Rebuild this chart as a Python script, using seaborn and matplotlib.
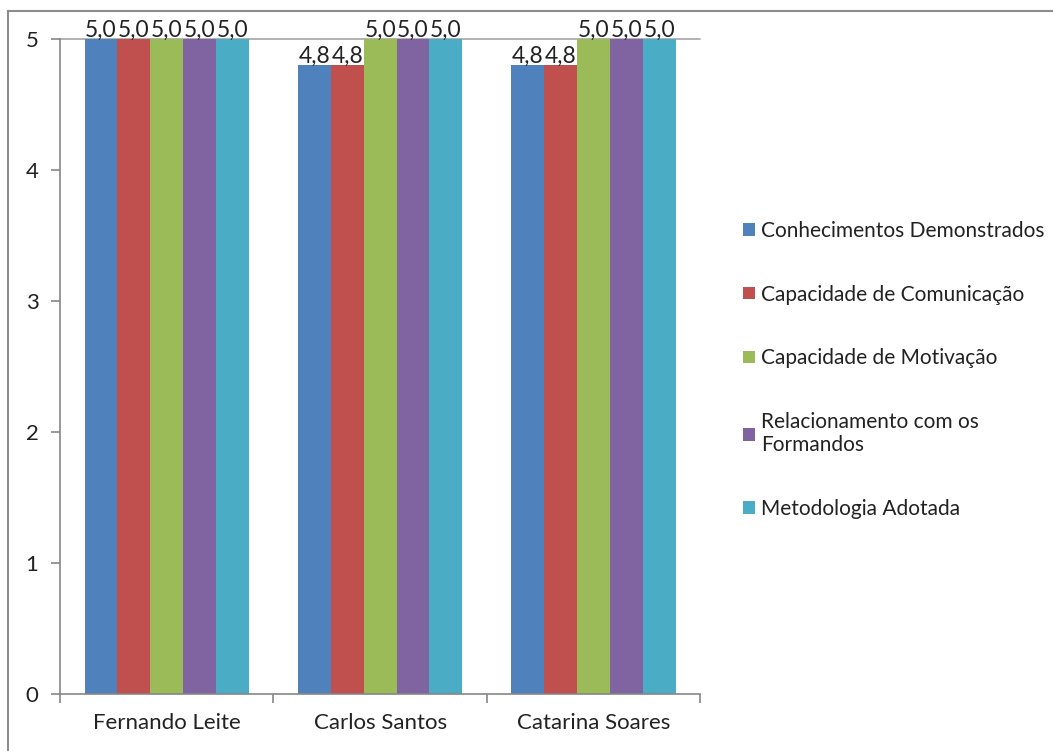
import numpy as np
import seaborn as sns
import pandas as pd
import matplotlib.pyplot as plt
from matplotlib.patches import Rectangle, Patch

# data
formadores = ['Fernando Leite', 'Carlos Santos', 'Catarina Soares']
criterios = ['Conhecimentos Demonstrados', 'Capacidade de Comunicação',
             'Capacidade de Motivação', 'Relacionamento com os\nFormandos',
             'Metodologia Adotada']
conhecimentos = [5.0, 4.8, 4.8]
comunicacao = [5.0, 4.8, 4.8]
motivacao = [5.0, 5.0, 5.0]
relacionamento = [5.0, 5.0, 5.0]
metodologia = [5.0, 5.0, 5.0]
cores = ['#4F81BD', '#C0504D', '#9BBB59', '#8064A2', '#4BACC6']

series = [conhecimentos, comunicacao, motivacao, relacionamento, metodologia]
rows = []
for crit, vals in zip(criterios, series):
    for nome, v in zip(formadores, vals):
        rows.append({'Formador': nome, 'Critério': crit, 'Nota': v})
df = pd.DataFrame(rows)

sns.set_style('white')
plt.rcParams['font.family'] = ['Lato', 'DejaVu Sans']

fig = plt.figure(figsize=(10.53, 7.51), dpi=100)
ax = fig.add_axes([0.057, 0.076, 0.608, 0.872])

sns.barplot(data=df, x='Formador', y='Nota', hue='Critério', order=formadores,
            hue_order=criterios, palette=cores, saturation=1, width=0.77,
            edgecolor='none', linewidth=0, ax=ax, legend=False)

for cont in ax.containers:
    labs = [f'{b.get_height():.1f}'.replace('.', ',') for b in cont]
    ax.bar_label(cont, labels=labs, padding=-1, fontsize=16.5, color='#222222', clip_on=False)

ax.set_ylim(0, 5)
ax.set_xlim(-0.5, 2.5)
ax.set_yticks(range(6))
ax.set_xlabel('')
ax.set_ylabel('')
ax.axhline(5, color='#A6A6A6', lw=1.2, zorder=0.5, clip_on=False)

for s in ['top', 'right']:
    ax.spines[s].set_visible(False)
for s in ['left', 'bottom']:
    ax.spines[s].set_color('#868686')
    ax.spines[s].set_linewidth(1.2)

ax.tick_params(axis='y', which='major', left=True, length=6.5, width=1.2, color='#868686',
               labelsize=16, labelcolor='#222222', pad=9)
ax.tick_params(axis='x', which='major', length=0, labelsize=16, labelcolor='#222222', pad=14)
ax.set_xticks([-0.5, 0.5, 1.5, 2.5], minor=True)
ax.tick_params(axis='x', which='minor', bottom=True, length=6.5, width=1.2, color='#868686')

handles = [Patch(facecolor=c, edgecolor='none') for c in cores]
fig.legend(handles, criterios, loc='upper left', bbox_to_anchor=(0.688, 0.731),
           frameon=False, fontsize=15, labelspacing=2.1, handlelength=0.55,
           handleheight=0.55, handletextpad=0.3, labelcolor='#222222')

fig.patches.append(Rectangle((8 / 1053, -0.01), 1.0, 1 - 11 / 751 + 0.01,
                             transform=fig.transFigure, fill=False,
                             edgecolor='#8C8C8C', lw=1.5))

fig.savefig('out.png', dpi=100)
